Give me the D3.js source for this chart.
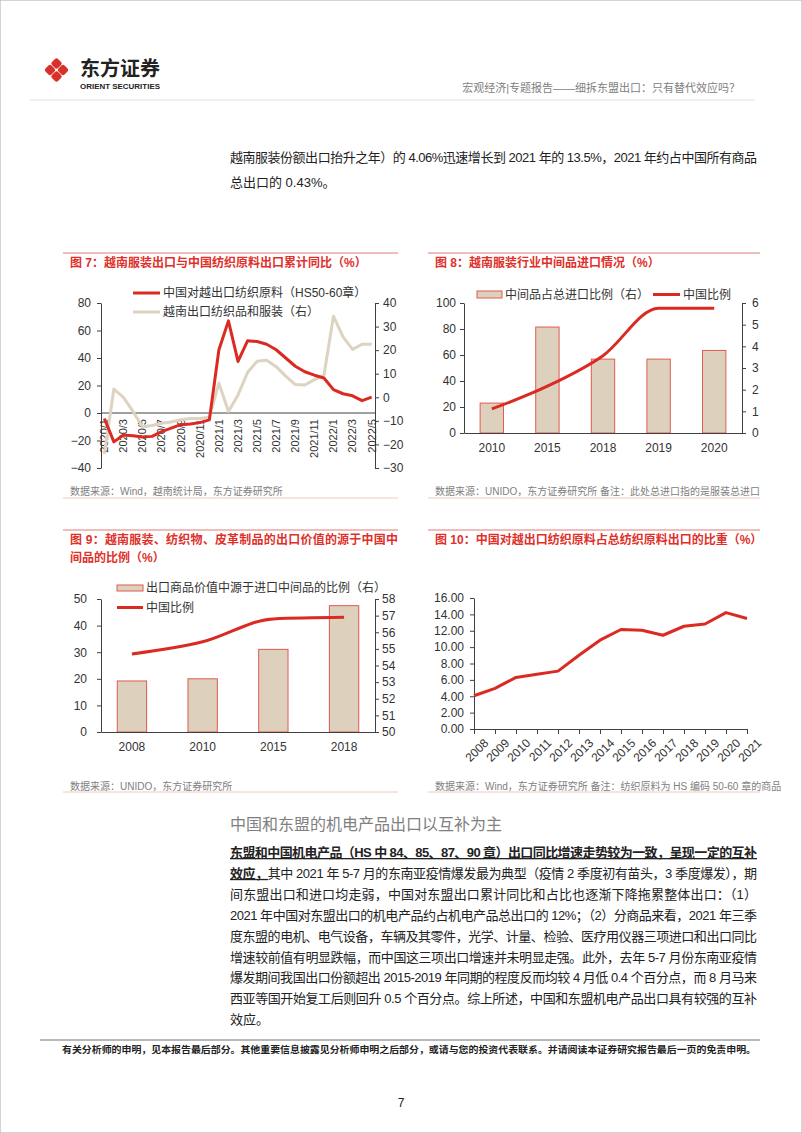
<!DOCTYPE html>
<meta charset="utf-8">
<style>
body { margin: 0; background: #fff; }
svg text { font-family: "Liberation Sans", Arial, "Noto Sans CJK SC", sans-serif; }
.tick text { fill: #333; font-size: 12px; }
.tick line, .domain { stroke: #404040; }
.title { fill: #e0302a; font-size: 12px; font-weight: bold; }
.src { fill: #808080; font-size: 10px; }
.leg { fill: #333; font-size: 12px; }
.body { fill: #222; font-size: 13px; }
</style>
<body>
<script src="https://cdn.jsdelivr.net/npm/d3@7"></script>
<script>

// ---- data ----
var months7 = ["2020/1","2020/2","2020/3","2020/4","2020/5","2020/6","2020/7","2020/8","2020/9","2020/10","2020/11","2020/12",
               "2021/1","2021/2","2021/3","2021/4","2021/5","2021/6","2021/7","2021/8","2021/9","2021/10","2021/11","2021/12",
               "2022/1","2022/2","2022/3","2022/4","2022/5"];
var chinaTextile7 = [-4, -21, -16, -16.5, -17.5, -17, -13.5, -11, -8.5, -8, -7, -5,
                     46, 67, 37.5, 52.5, 52, 50, 46, 40, 34, 30, 27.5, 25.5,
                     17, 14, 12.5, 9, 11.5];
var vnApparel7 = [-24, 3.5, 0, -6, -12.5, -12, -11, -10.5, -9.5, -9, -9, -8.5,
                  6, -6, 1, 10.5, 15.3, 15.7, 13, 9, 5.4, 5.2, 7.5, 9.3,
                  34.4, 25.6, 20.3, 22.5, 22.5];

var years8 = ["2010", "2015", "2018", "2019", "2020"];
var interShare8 = [1.38, 4.89, 3.41, 3.41, 3.81];   // right axis
var chinaShare8 = [18.5, 36, 59.5, 96, 96];         // left axis

var years9 = ["2008", "2010", "2015", "2018"];
var importedShare9 = [53.07, 53.2, 54.97, 57.6];    // right axis
var chinaShare9 = [29.3, 33.9, 42.5, 43.1];         // left axis

var years10 = ["2008","2009","2010","2011","2012","2013","2014","2015","2016","2017","2018","2019","2020","2021"];
var vnShare10 = [4.06, 4.96, 6.3, 6.7, 7.07, 9.0, 10.85, 12.15, 12.07, 11.45, 12.55, 12.83, 14.22, 13.5];

var red = "#da2a22", beige = "#ddd3c1", barFill = "#ddd1bd", barStroke = "#e05a50";

var svg = d3.select("body").append("svg")
    .attr("width", 802).attr("height", 1133);

svg.append("rect").attr("width", 802).attr("height", 1133).attr("fill", "#fff")
    .attr("stroke", "#aaa").attr("stroke-width", 1);

// ---- header ----
var logo = svg.append("g").attr("transform", "translate(56.5,70)");
[[0, -6.5], [-6.5, 0], [6.5, 0], [0, 6.5]].forEach(function(p) {
  logo.append("rect")
      .attr("x", -4.3).attr("y", -4.3).attr("width", 8.6).attr("height", 8.6)
      .attr("rx", 2.2)
      .attr("fill", "#d8302a")
      .attr("transform", "translate(" + p[0] + "," + p[1] + ") rotate(45)");
});
svg.append("text").attr("x", 80).attr("y", 76)
    .attr("font-size", 20).attr("font-weight", "bold").attr("fill", "#222")
    .attr("textLength", 80).attr("lengthAdjust", "spacingAndGlyphs")
    .text("东方证券");
svg.append("text").attr("x", 80).attr("y", 88.5)
    .attr("font-size", 8).attr("font-weight", "bold").attr("fill", "#222")
    .attr("textLength", 80).attr("lengthAdjust", "spacingAndGlyphs")
    .text("ORIENT SECURITIES");
svg.append("text").attr("x", 740).attr("y", 92)
    .attr("text-anchor", "end").attr("font-size", 11).attr("fill", "#808080")
    .text("宏观经济|专题报告——细拆东盟出口：只有替代效应吗？");
svg.append("line").attr("x1", 30).attr("x2", 755).attr("y1", 100).attr("y2", 100)
    .attr("stroke", "#e0e0e0");

// ---- top paragraph ----
svg.append("text").attr("class", "body").attr("x", 230).attr("y", 162)
    .attr("textLength", 527).attr("lengthAdjust", "spacing")
    .text("越南服装份额出口抬升之年）的 4.06%迅速增长到 2021 年的 13.5%，2021 年约占中国所有商品");
svg.append("text").attr("class", "body").attr("x", 230).attr("y", 187)
    .text("总出口的 0.43%。");

// ---- chart frames ----
function frame(x1, x2, yTop, yBot) {
  svg.append("line").attr("x1", x1).attr("x2", x2).attr("y1", yTop).attr("y2", yTop)
      .attr("stroke", "#eaa8a4").attr("stroke-width", 1.5);
  svg.append("line").attr("x1", x1).attr("x2", x2).attr("y1", yBot).attr("y2", yBot)
      .attr("stroke", "#f2c8c4").attr("stroke-width", 1);
}
frame(63, 398, 253, 498);
frame(428, 760, 253, 498);
frame(63, 398, 530, 792);
frame(428, 760, 530, 792);

function axisStyle(sel) {
  sel.selectAll(".tick text").attr("font-family", "Liberation Sans, Arial, sans-serif");
}

// ================= chart 7 =================
svg.append("text").attr("class", "title").attr("x", 70).attr("y", 267)
    .text("图 7：越南服装出口与中国纺织原料出口累计同比（%）");

var x7 = d3.scalePoint().domain(months7).range([101, 375]).padding(0.35);
var yL7 = d3.scaleLinear().domain([-40, 80]).range([468, 303]);
var yR7 = d3.scaleLinear().domain([-30, 40]).range([468, 303]);

svg.append("g").attr("transform", "translate(101,0)")
    .call(d3.axisLeft(yL7).tickValues(d3.range(-40, 81, 20)).tickSize(4).tickSizeOuter(0).tickPadding(6))
    .call(axisStyle);
svg.append("g").attr("transform", "translate(375,0)")
    .call(d3.axisRight(yR7).tickValues(d3.range(-30, 41, 10)).tickSize(4).tickSizeOuter(0).tickPadding(4))
    .call(axisStyle);
svg.append("line").attr("x1", 101).attr("x2", 375).attr("y1", yL7(0)).attr("y2", yL7(0))
    .attr("stroke", "#404040");

svg.append("g").selectAll("text")
  .data(months7.filter(function(d, i) { return i % 2 === 0; }))
  .enter().append("text")
    .attr("transform", function(d) { return "translate(" + x7(d) + "," + (yL7(0) + 6) + ") rotate(-90)"; })
    .attr("text-anchor", "end").attr("dy", "0.35em")
    .attr("font-size", 11).attr("fill", "#333")
    .text(function(d) { return d; });

var line7L = d3.line().x(function(d, i) { return x7(months7[i]); }).y(function(d) { return yL7(d); });
var line7R = d3.line().x(function(d, i) { return x7(months7[i]); }).y(function(d) { return yR7(d); });

svg.append("path").datum(vnApparel7).attr("d", line7R)
    .attr("fill", "none").attr("stroke", beige).attr("stroke-width", 3).attr("stroke-linejoin", "round");
svg.append("path").datum(chinaTextile7).attr("d", line7L)
    .attr("fill", "none").attr("stroke", red).attr("stroke-width", 3).attr("stroke-linejoin", "round");

// legend 7
svg.append("line").attr("x1", 133).attr("x2", 160).attr("y1", 293).attr("y2", 293)
    .attr("stroke", red).attr("stroke-width", 3);
svg.append("text").attr("class", "leg").attr("x", 163).attr("y", 297)
    .text("中国对越出口纺织原料（HS50-60章）");
svg.append("line").attr("x1", 133).attr("x2", 160).attr("y1", 312).attr("y2", 312)
    .attr("stroke", beige).attr("stroke-width", 3);
svg.append("text").attr("class", "leg").attr("x", 163).attr("y", 316)
    .text("越南出口纺织品和服装（右）");

svg.append("text").attr("class", "src").attr("x", 70).attr("y", 495)
    .text("数据来源：Wind，越南统计局，东方证券研究所");

// ================= chart 8 =================
svg.append("text").attr("class", "title").attr("x", 435).attr("y", 267)
    .text("图 8：越南服装行业中间品进口情况（%）");

var x8 = d3.scaleBand().domain(years8).range([464, 742]).paddingInner(0.58).paddingOuter(0.29);
var yL8 = d3.scaleLinear().domain([0, 100]).range([433, 303]);
var yR8 = d3.scaleLinear().domain([0, 6]).range([433, 303]);

svg.append("g").attr("transform", "translate(464,0)")
    .call(d3.axisLeft(yL8).ticks(5).tickSize(4).tickSizeOuter(0).tickPadding(4))
    .call(axisStyle);
svg.append("g").attr("transform", "translate(742,0)")
    .call(d3.axisRight(yR8).ticks(6).tickSize(4).tickSizeOuter(0).tickPadding(6))
    .call(axisStyle);

svg.append("g").selectAll("rect").data(interShare8).enter().append("rect")
    .attr("x", function(d, i) { return x8(years8[i]); })
    .attr("y", function(d) { return yR8(d); })
    .attr("width", x8.bandwidth())
    .attr("height", function(d) { return yR8(0) - yR8(d); })
    .attr("fill", barFill).attr("stroke", barStroke).attr("stroke-width", 1);

svg.append("g").attr("transform", "translate(0,433)")
    .call(d3.axisBottom(x8).tickSize(0).tickSizeOuter(0).tickPadding(10))
    .call(axisStyle);

svg.append("path").datum(chinaShare8)
    .attr("d", d3.line().curve(d3.curveMonotoneX)
        .x(function(d, i) { return x8(years8[i]) + x8.bandwidth() / 2; })
        .y(function(d) { return yL8(d); }))
    .attr("fill", "none").attr("stroke", red).attr("stroke-width", 3);

svg.append("rect").attr("x", 477).attr("y", 291).attr("width", 25).attr("height", 7)
    .attr("fill", barFill).attr("stroke", barStroke);
svg.append("text").attr("class", "leg").attr("x", 505).attr("y", 299)
    .text("中间品占总进口比例（右）");
svg.append("line").attr("x1", 653).attr("x2", 680).attr("y1", 294.5).attr("y2", 294.5)
    .attr("stroke", red).attr("stroke-width", 3);
svg.append("text").attr("class", "leg").attr("x", 683).attr("y", 299)
    .text("中国比例");

svg.append("text").attr("class", "src").attr("x", 435).attr("y", 495)
    .text("数据来源：UNIDO，东方证券研究所 备注：此处总进口指的是服装总进口");

// ================= chart 9 =================
svg.append("text").attr("class", "title").attr("x", 70).attr("y", 544)
    .attr("textLength", 328).attr("lengthAdjust", "spacing")
    .text("图 9：越南服装、纺织物、皮革制品的出口价值的源于中国中");
svg.append("text").attr("class", "title").attr("x", 70).attr("y", 562)
    .text("间品的比例（%）");

var x9 = d3.scaleBand().domain(years9).range([101, 375]).paddingInner(0.585).paddingOuter(0.23);
var yL9 = d3.scaleLinear().domain([0, 50]).range([732, 599]);
var yR9 = d3.scaleLinear().domain([50, 58]).range([732, 599]);

svg.append("g").attr("transform", "translate(101,0)")
    .call(d3.axisLeft(yL9).ticks(5).tickSize(4).tickSizeOuter(0).tickPadding(10))
    .call(axisStyle);
svg.append("g").attr("transform", "translate(375,0)")
    .call(d3.axisRight(yR9).ticks(8).tickSize(4).tickSizeOuter(0).tickPadding(3))
    .call(axisStyle);

svg.append("g").selectAll("rect").data(importedShare9).enter().append("rect")
    .attr("x", function(d, i) { return x9(years9[i]); })
    .attr("y", function(d) { return yR9(d); })
    .attr("width", x9.bandwidth())
    .attr("height", function(d) { return yR9(50) - yR9(d); })
    .attr("fill", barFill).attr("stroke", barStroke).attr("stroke-width", 1);

svg.append("g").attr("transform", "translate(0,732)")
    .call(d3.axisBottom(x9).tickSize(0).tickSizeOuter(0).tickPadding(10))
    .call(axisStyle);

svg.append("path").datum(chinaShare9)
    .attr("d", d3.line().curve(d3.curveMonotoneX)
        .x(function(d, i) { return x9(years9[i]) + x9.bandwidth() / 2; })
        .y(function(d) { return yL9(d); }))
    .attr("fill", "none").attr("stroke", red).attr("stroke-width", 3);

svg.append("rect").attr("x", 117).attr("y", 585).attr("width", 26).attr("height", 6)
    .attr("fill", barFill).attr("stroke", barStroke);
svg.append("text").attr("class", "leg").attr("x", 146).attr("y", 592)
    .text("出口商品价值中源于进口中间品的比例（右）");
svg.append("line").attr("x1", 117).attr("x2", 143).attr("y1", 607.5).attr("y2", 607.5)
    .attr("stroke", red).attr("stroke-width", 3);
svg.append("text").attr("class", "leg").attr("x", 146).attr("y", 612)
    .text("中国比例");

svg.append("text").attr("class", "src").attr("x", 70).attr("y", 790)
    .text("数据来源：UNIDO，东方证券研究所");

// ================= chart 10 =================
svg.append("text").attr("class", "title").attr("x", 435).attr("y", 544)
    .text("图 10：中国对越出口纺织原料占总纺织原料出口的比重（%）");

var x10 = d3.scalePoint().domain(years10).range([474, 747]);
var y10 = d3.scaleLinear().domain([0, 16]).range([729, 598]);

svg.append("g").attr("transform", "translate(474,0)")
    .call(d3.axisLeft(y10).ticks(8).tickFormat(d3.format(".2f")).tickSize(4).tickSizeOuter(0).tickPadding(6))
    .call(axisStyle);
var gx10 = svg.append("g").attr("transform", "translate(0,729)")
    .call(d3.axisBottom(x10).tickSize(5).tickSizeOuter(0).tickPadding(3));
gx10.selectAll(".tick text")
    .attr("font-size", 11.5)
    .attr("text-anchor", "end")
    .attr("transform", "translate(4,4) rotate(-45)")
    .attr("dy", "0.6em");

svg.append("path").datum(vnShare10)
    .attr("d", d3.line().x(function(d, i) { return x10(years10[i]); }).y(function(d) { return y10(d); }))
    .attr("fill", "none").attr("stroke", red).attr("stroke-width", 3).attr("stroke-linejoin", "round");

svg.append("text").attr("class", "src").attr("x", 435).attr("y", 790)
    .text("数据来源：Wind，东方证券研究所 备注：纺织原料为 HS 编码 50-60 章的商品");

// ---- section text ----
svg.append("text").attr("x", 230).attr("y", 830)
    .attr("font-size", 16).attr("fill", "#808080")
    .text("中国和东盟的机电产品出口以互补为主");

var bodyLines = [
  [["东盟和中国机电产品（HS 中 84、85、87、90 章）出口同比增速走势较为一致，呈现一定的互补", true]],
  [["效应，", true], ["其中 2021 年 5-7 月的东南亚疫情爆发最为典型（疫情 2 季度初有苗头，3 季度爆发），期", false]],
  [["间东盟出口和进口均走弱，中国对东盟出口累计同比和占比也逐渐下降拖累整体出口：（1）", false]],
  [["2021 年中国对东盟出口的机电产品约占机电产品总出口的 12%；（2）分商品来看，2021 年三季", false]],
  [["度东盟的电机、电气设备，车辆及其零件，光学、计量、检验、医疗用仪器三项进口和出口同比", false]],
  [["增速较前值有明显跌幅，而中国这三项出口增速并未明显走强。此外，去年 5-7 月份东南亚疫情", false]],
  [["爆发期间我国出口份额超出 2015-2019 年同期的程度反而均较 4 月低 0.4 个百分点，而 8 月马来", false]],
  [["西亚等国开始复工后则回升 0.5 个百分点。综上所述，中国和东盟机电产品出口具有较强的互补", false]],
  [["效应。", false]]
];
bodyLines.forEach(function(parts, i) {
  var t = svg.append("text").attr("class", "body").attr("x", 230).attr("y", 857 + i * 20.9);
  if (i < bodyLines.length - 1) t.attr("textLength", 527).attr("lengthAdjust", "spacing");
  parts.forEach(function(p) {
    var s = t.append("tspan").text(p[0]);
    if (p[1]) s.attr("font-weight", "bold").attr("text-decoration", "underline");
  });
});

// ---- footer ----
svg.append("line").attr("x1", 40).attr("x2", 760).attr("y1", 1040).attr("y2", 1040)
    .attr("stroke", "#a0a0a0").attr("stroke-width", 1.5);
svg.append("text").attr("x", 62).attr("y", 1053)
    .attr("font-size", 9.5).attr("font-weight", "bold").attr("fill", "#222")
    .attr("textLength", 694).attr("lengthAdjust", "spacingAndGlyphs")
    .text("有关分析师的申明，见本报告最后部分。其他重要信息披露见分析师申明之后部分，或请与您的投资代表联系。并请阅读本证券研究报告最后一页的免责申明。");
svg.append("text").attr("x", 401).attr("y", 1107).attr("text-anchor", "middle")
    .attr("font-size", 12).attr("fill", "#222").text("7");

</script>
</body>
